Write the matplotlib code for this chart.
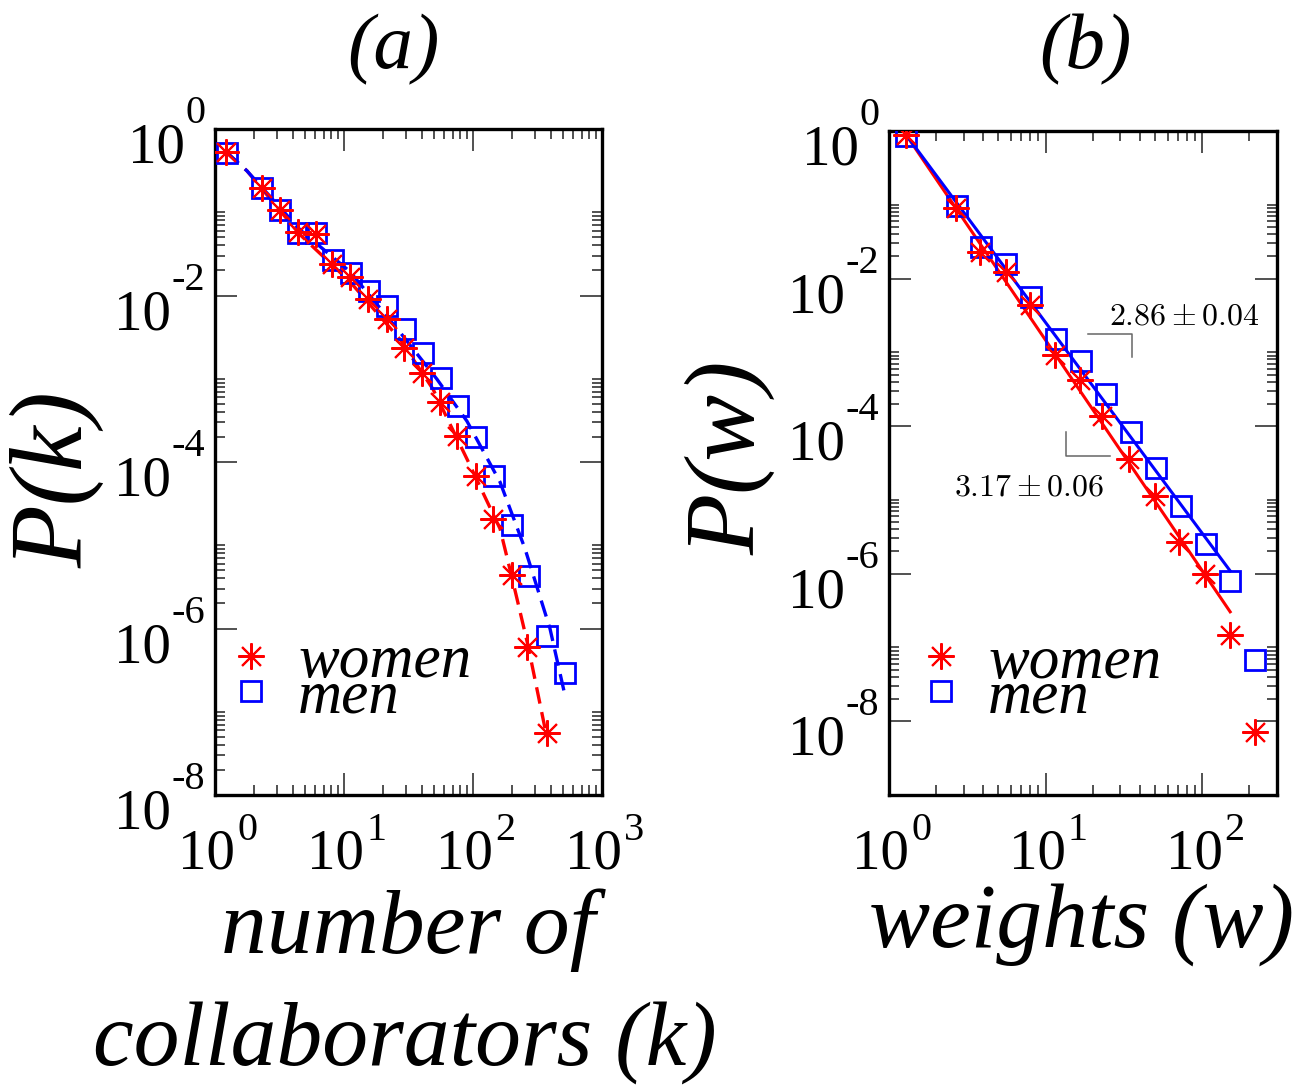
import matplotlib
matplotlib.use("Agg")
import matplotlib.pyplot as plt
from matplotlib.lines import Line2D
from matplotlib.ticker import FixedLocator, NullFormatter, LogLocator

# ---------------- data: panel (a) degree distribution ----------------
women_k = [1.22, 2.31, 3.19, 4.43, 6.07, 8.11, 11.1, 15.4, 21.4, 29.2, 40.0, 55.5,
           75.5, 105, 143, 200, 264, 372]
women_Pk = [0.526, 0.195, 0.107, 0.058, 0.055, 0.0242, 0.0167, 0.0091, 0.00516, 0.00234,
            0.00116, 5.19e-4, 2.07e-4, 6.86e-5, 2.07e-5, 4.35e-6, 6.0e-7, 5.5e-8]
men_k = [1.23, 2.30, 3.19, 4.43, 6.07, 8.26, 11.3, 15.7, 21.7, 29.7, 40.7, 56.2, 76.9,
         105, 145.5, 200, 273.5, 377, 516]
men_Pk = [0.512, 0.195, 0.105, 0.0564, 0.0564, 0.0265, 0.0187, 0.01125, 0.00745, 0.00399,
          0.00206, 0.00103, 4.72e-4, 1.98e-4, 6.75e-5, 1.77e-5, 4.28e-6, 8.2e-7, 2.94e-7]
# fitted curves (dashed)
women_fit_k = [1.22, 1.77, 4.56, 11.1, 27.2, 49.0, 89.7, 162, 204, 267, 368]
women_fit_P = [0.53, 0.314, 0.0538, 0.0147, 0.00297, 7.48e-4, 1.09e-4, 1.58e-5, 3.66e-6,
               6.25e-7, 5.53e-8]
men_fit_k = [1.22, 1.77, 4.56, 11.1, 27.2, 52.6, 89.7, 162, 253, 395, 516]
men_fit_P = [0.53, 0.314, 0.0617, 0.0194, 0.00361, 9.86e-4, 3.10e-4, 5.75e-5, 9.08e-6,
             1.0e-6, 1.58e-7]

# ---------------- data: panel (b) weight distribution ----------------
women_w = [1.28, 2.67, 3.80, 5.62, 8.0, 11.4, 16.5, 23.0, 34.3, 50.0, 71.4, 104.5, 150.7, 217.8]
women_Pw = [0.883, 0.0891, 0.0231, 0.01233, 0.00434, 9.29e-4, 4.16e-4, 1.39e-4, 3.60e-5,
            1.14e-5, 2.66e-6, 9.9e-7, 1.47e-7, 7.1e-9]
men_w = [1.28, 2.70, 3.89, 5.62, 8.11, 11.7, 16.9, 24.4, 35.2, 50.7, 73.1, 105.7, 150.7, 217.8]
men_Pw = [0.867, 0.0959, 0.0269, 0.0156, 0.00564, 0.00153, 7.62e-4, 2.74e-4, 8.45e-5,
          2.69e-5, 8.36e-6, 2.52e-6, 7.85e-7, 6.78e-8]
# power-law fit lines (end points)
women_fit_w = [1.28, 150.7]
women_fit_Pw = [0.90, 3.04e-7]
men_fit_w = [1.28, 150.7]
men_fit_Pw = [0.90, 1.09e-6]
# slope guides and labels
slope_men_x = [18.6, 35.7, 35.7]
slope_men_y = [1.79e-3, 1.79e-3, 8.65e-4]
slope_women_x = [13.4, 13.4, 25.6]
slope_women_y = [8.28e-5, 3.99e-5, 3.99e-5]
slope_men_text = r"$2.86 \pm 0.04$"
slope_women_text = r"$3.17 \pm 0.06$"

legend_labels = ["women", "men"]
titles = ["(a)", "(b)"]

RED = "#ff0000"
BLUE = "#0000ff"
STAR = (8, 2, 0)
SERIF = "Liberation Serif"

W, H = 1313, 1086
fig = plt.figure(figsize=(W / 100, H / 100), dpi=100)

def px_axes(l, t, r, b):
    return fig.add_axes([l / W, 1 - b / H, (r - l) / W, (b - t) / H])

axA = px_axes(215, 129, 602, 795)
axB = px_axes(889, 131, 1277, 795)

star_kw = dict(linestyle="none", marker=STAR, ms=19, mew=1.5, color=RED)
sq_kw = dict(linestyle="none", marker="s", ms=14, mew=2.0, mfc="none", mec=BLUE)

# panel a
axA.plot(women_fit_k, women_fit_P, color=RED, lw=2.4, dashes=(5, 2.6), zorder=2)
axA.plot(men_fit_k, men_fit_P, color=BLUE, lw=2.4, dashes=(5, 2.6), zorder=2)
axA.plot(men_k, men_Pk, zorder=3, **sq_kw)
axA.plot(women_k, women_Pk, zorder=4, **star_kw)

# panel b
axB.plot(women_fit_w, women_fit_Pw, color=RED, lw=2.2, zorder=2)
axB.plot(men_fit_w, men_fit_Pw, color=BLUE, lw=2.2, zorder=2)
axB.plot(men_w, men_Pw, zorder=3, **sq_kw)
axB.plot(women_w, women_Pw, zorder=4, **star_kw)
axB.plot(slope_men_x, slope_men_y, color="#666666", lw=1.1, zorder=1)
axB.plot(slope_women_x, slope_women_y, color="#666666", lw=1.1, zorder=1)
axB.text(76.8, 3.15e-3, slope_men_text, math_fontfamily="cm", fontsize=23,
         ha="center", va="center")
axB.text(7.8, 1.5e-5, slope_women_text, math_fontfamily="cm", fontsize=23,
         ha="center", va="center")


def style_axes(ax, xlim, ylim, xexps, yexps):
    ax.set_xscale("log")
    ax.set_yscale("log")
    ax.set_xlim(*xlim)
    ax.set_ylim(*ylim)
    for s in ax.spines.values():
        s.set_linewidth(2.4)
    ax.xaxis.set_major_locator(FixedLocator([10.0 ** e for e in xexps]))
    ax.xaxis.set_minor_locator(LogLocator(base=10, subs=range(2, 10), numticks=20))
    ax.yaxis.set_major_locator(FixedLocator([10.0 ** e for e in yexps]))
    yminor = [k * 10.0 ** m for m in range(-10, 0, 2) for k in range(2, 11)]
    ax.yaxis.set_minor_locator(FixedLocator(yminor))
    ax.xaxis.set_major_formatter(NullFormatter())
    ax.xaxis.set_minor_formatter(NullFormatter())
    ax.yaxis.set_major_formatter(NullFormatter())
    ax.yaxis.set_minor_formatter(NullFormatter())
    ax.tick_params(which="both", direction="in", top=True, right=True, color="#222222")
    ax.tick_params(which="major", length=15.5, width=1.1)
    ax.tick_params(which="minor", length=7.5, width=1.1)
    # y tick labels: 10 with raised exponent
    for e in yexps:
        sup = ax.annotate(f"{e}", xy=(0, 10.0 ** e), xycoords=ax.get_yaxis_transform(),
                          xytext=(-7, 4.3), textcoords="offset points", ha="right",
                          va="baseline", fontsize=29, family=SERIF, annotation_clip=False)
        ax.annotate("10", xy=(0, 0), xycoords=sup, xytext=(-0.5, -22),
                    textcoords="offset points", ha="right", va="baseline",
                    fontsize=41, family=SERIF, annotation_clip=False)
    for e in xexps:
        t10 = ax.annotate("10", xy=(10.0 ** e, 0), xycoords=ax.get_xaxis_transform(),
                          xytext=(14.5, -53), textcoords="offset points", ha="right",
                          va="baseline", fontsize=41, family=SERIF, annotation_clip=False)
        ax.annotate(f"{e}", xy=(1, 0), xycoords=t10, xytext=(1.5, 29),
                    textcoords="offset points", ha="left", va="baseline",
                    fontsize=29, family=SERIF, annotation_clip=False)


style_axes(axA, (1, 1000), (1e-8, 1), [0, 1, 2, 3], [0, -2, -4, -6, -8])
style_axes(axB, (1, 300), (1e-9, 1), [0, 1, 2], [0, -2, -4, -6, -8])

leg_font = dict(family=SERIF, style="italic", size=44)
for ax, xa in ((axA, 0.0535), (axB, 0.095)):
    handles = [Line2D([], [], **star_kw), Line2D([], [], **sq_kw)]
    ax.legend(handles, legend_labels, loc="upper left", bbox_to_anchor=(xa, 0.241),
              frameon=False, handlelength=0.5, handletextpad=0.52, borderpad=0,
              borderaxespad=0, labelspacing=-0.34, prop=leg_font)

# titles and axis labels
def ftext(x, y, s, **kw):
    fig.text(x / W, 1 - y / H, s, ha="center", va="center", family=SERIF,
             style="italic", **kw)

ftext(393, 50, titles[0], fontsize=57)
ftext(1085, 50, titles[1], fontsize=57)
ftext(57, 480, "P(k)", fontsize=74, rotation=90)
ftext(730, 458, "P(w)", fontsize=72, rotation=90)
ftext(408, 930, "number of", fontsize=66)
ftext(405, 1043, "collaborators (k)", fontsize=66)
ftext(1082, 925, "weights (w)", fontsize=66)

fig.savefig("out.png", dpi=100)
